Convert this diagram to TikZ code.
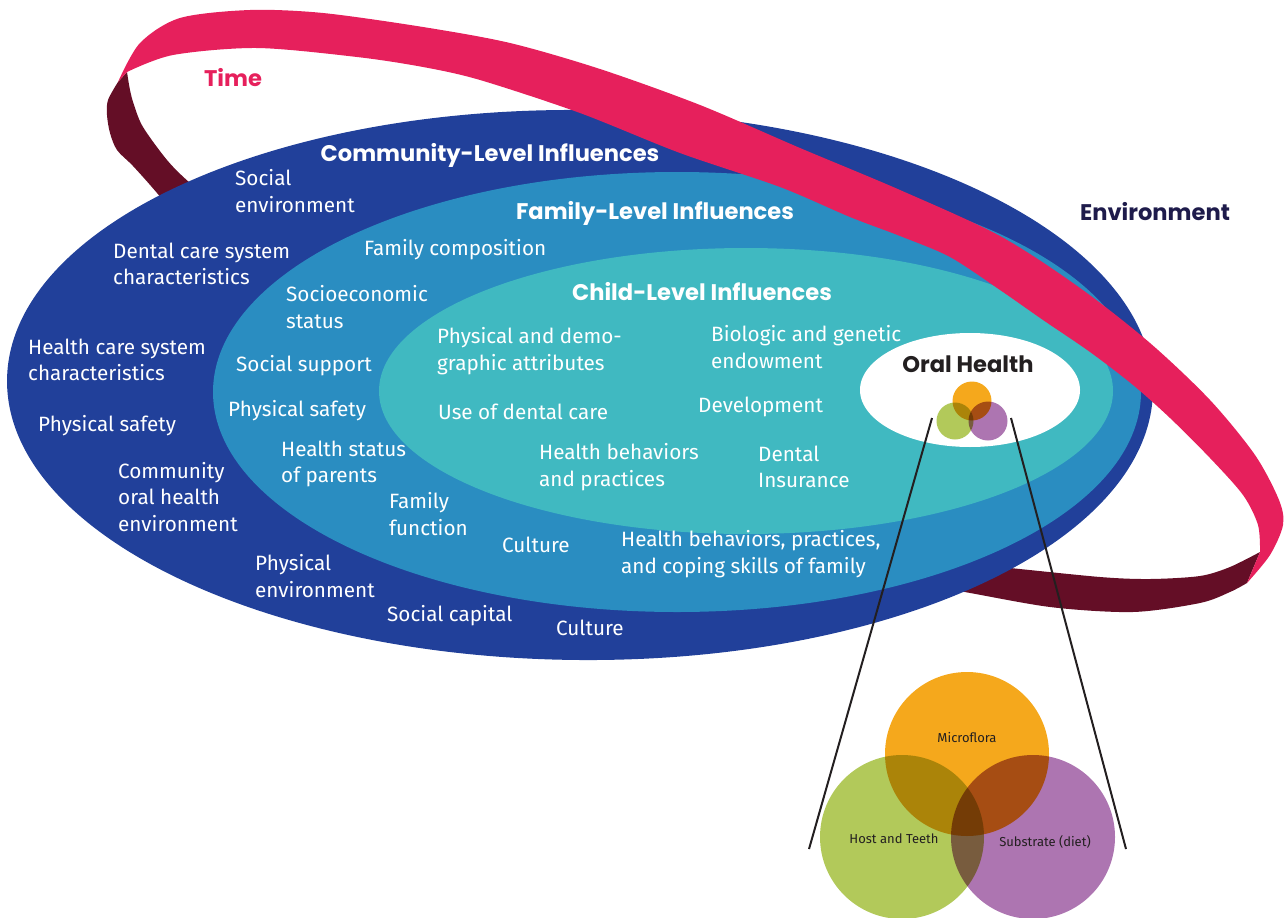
\documentclass[tikz,border=0pt]{standalone}
\usepackage{fontspec}
\newfontfamily\labelfont{Fira Sans}
\newfontfamily\headfont{Poppins}
\definecolor{cdark}{HTML}{21409A}
\definecolor{cmid}{HTML}{2A8DC1}
\definecolor{cteal}{HTML}{40B9C1}
\definecolor{cpink}{HTML}{E6205C}
\definecolor{cmaroon}{HTML}{640E26}
\definecolor{cnavy}{HTML}{1E1B4B}
\definecolor{cink}{HTML}{231F20}
\definecolor{corange}{HTML}{F5A81C}
\definecolor{cgreen}{HTML}{B2C95A}
\definecolor{cpurple}{HTML}{AD75B1}
\begin{document}
\begin{tikzpicture}[x=1pt,y=-1pt,
  lbl/.style={font=\labelfont\fontsize{20.7}{26.5}\selectfont, text=white, align=left, inner sep=0pt, anchor=west},
  head/.style={font=\headfont\bfseries\fontsize{22.6}{26}\selectfont, text=white, inner sep=0pt},
  venntxt/.style={font=\labelfont\fontsize{13}{15}\selectfont, text=cink, inner sep=0pt},
  zoomline/.style={draw=cink, line width=2pt}]
\useasboundingbox (0,0) rectangle (1285,918);
% back face of the Time ribbon
\fill[cmaroon] plot[smooth] coordinates {(118,82) (108,100) (107,115) (110,133) (117,150) (133,166) (157,193) (200,245)}
  -- plot[smooth] coordinates {(240,225) (190,183) (167,160) (143,127) (134,105) (130,90) (127,72)} -- cycle;
\fill[cmaroon] plot[smooth] coordinates {(1260,552) (1230,567) (1200,576) (1150,579) (1100,577) (1000,567) (953,563) (880,552)}
  -- plot[smooth] coordinates {(880,580) (953,590) (1050,607) (1133,612) (1200,603) (1230,592) (1247,583)} -- cycle;
% nested ellipses
\fill[cdark, rotate around={-0.5:(580,385)}] (580,385) ellipse [x radius=573pt, y radius=275pt];
\fill[cmid] (677,392) ellipse [x radius=464pt, y radius=220pt];
\fill[cteal] (746,391) ellipse [x radius=367pt, y radius=143pt];
\fill[white] (970,390) ellipse [x radius=110pt, y radius=57pt];
% front face of the Time ribbon
\fill[cpink] plot[smooth, tension=0.5] coordinates {(118,82) (140,43) (180,18) (250,10) (323,13) (423,27) (510,43) (600,69) (700,105) (800,148) (900,190) (1000,236) (1080,288) (1150,343) (1210,400) (1255,455) (1279,500) (1283,525) (1270,555) (1247,583)}
  -- plot[smooth, tension=0.5] coordinates {(1260,552) (1258,525) (1243,495) (1210,458) (1170,418) (1133,385) (1090,352) (1043,320) (1000,290) (950,257) (900,236) (850,217) (780,187) (680,153) (580,113) (480,80) (423,67) (357,57) (257,48) (173,55) (127,72)} -- cycle;
% titles
\node[head, text=cpink] (time) at (233,78) {Time};
\node[head, text=cnavy] (env) at (1155,212) {Environment};
\node[head] (comm) at (490,155) {Community-Level Influences};
\node[head] (fam) at (655,213) {Family-Level Influences};
\node[head] (child) at (702,292) {Child-Level Influences};
\node[head, text=cink] (oral) at (968,364) {Oral Health};
% community-level
\node[lbl] (c1) at (235,191) {Social\\environment};
\node[lbl] (c2) at (113,264) {Dental care system\\characteristics};
\node[lbl] (c3) at (28,360) {Health care system\\characteristics};
\node[lbl] (c4) at (38,426) {Physical safety};
\node[lbl] (c5) at (118,497) {Community\\oral health\\environment};
\node[lbl] (c6) at (255,576) {Physical\\environment};
\node[lbl] (c7) at (387,616) {Social capital};
\node[lbl] (c8) at (556,628) {Culture};
% family-level
\node[lbl] (f1) at (364,250) {Family composition};
\node[lbl] (f2) at (286,307) {Socioeconomic\\status};
\node[lbl] (f3) at (236,366) {Social support};
\node[lbl] (f4) at (228,411) {Physical safety};
\node[lbl] (f5) at (281,464) {Health status\\of parents};
\node[lbl] (f6) at (389,514) {Family\\function};
\node[lbl] (f7) at (502,545) {Culture};
\node[lbl] (f8) at (621,554) {Health behaviors, practices,\\and coping skills of family};
% child-level
\node[lbl] (k1) at (437,351) {Physical and demo-\\graphic attributes};
\node[lbl] (k2) at (711,347) {Biologic and genetic\\endowment};
\node[lbl] (k3) at (438,412) {Use of dental care};
\node[lbl] (k4) at (698,407) {Development};
\node[lbl] (k5) at (539,467) {Health behaviors\\and practices};
\node[lbl] (k6) at (758,467) {Dental\\Insurance};
% small venn
\begin{scope}[blend group=multiply]
  \fill[corange] (972,401) circle [radius=19.5pt];
  \fill[cgreen] (955,421) circle [radius=18.5pt];
  \fill[cpurple] (988,421) circle [radius=19.5pt];
\end{scope}
% zoom lines
\coordinate (la) at (932,418);
\coordinate (lb) at (809,849);
\coordinate (ra) at (1011,418);
\coordinate (rb) at (1126,849);
\draw[zoomline] (la) -- (lb);
\draw[zoomline] (ra) -- (rb);
% big venn
\begin{scope}[blend group=multiply]
  \fill[corange] (967,754) circle [radius=82pt];
  \fill[cgreen] (902,837) circle [radius=82pt];
  \fill[cpurple] (1033,837) circle [radius=82pt];
\end{scope}
\node[venntxt] (v1) at (967,737) {Microflora};
\node[venntxt] (v2) at (894,839) {Host and Teeth};
\node[venntxt] (v3) at (1045,842) {Substrate (diet)};
\end{tikzpicture}
\end{document}
